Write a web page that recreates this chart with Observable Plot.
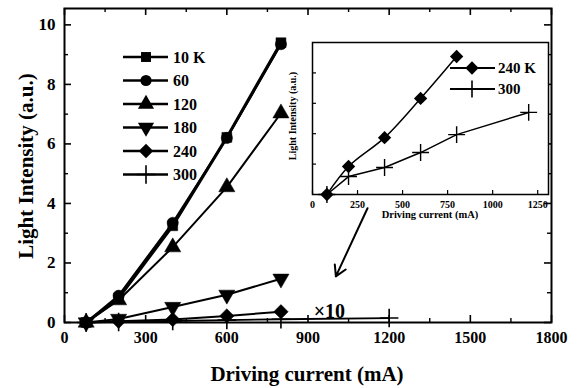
<!DOCTYPE html>
<html><head><meta charset="utf-8">
<script src="https://cdn.jsdelivr.net/npm/d3@7"></script>
<script src="https://cdn.jsdelivr.net/npm/@observablehq/plot@0.6"></script>
<style>
body{margin:0;background:#fff;}
#wrap{position:relative;width:578px;height:388px;font-family:"Liberation Serif","Times New Roman",serif;}
#inset{position:absolute;left:280px;top:38px;}
svg{overflow:visible}
</style></head><body>
<div id="wrap"><div id="main"></div><div id="inset"></div></div>
<script>
// ---- data ----
const currents = [80, 200, 400, 600, 800];
const currents300 = [80, 200, 400, 600, 800, 1200];
const series = ["10 K", "60", "120", "180", "240", "300"];
const I10 = [0, 0.82, 3.25, 6.22, 9.4];
const I60 = [0, 0.9, 3.35, 6.2, 9.35];
const I120 = [0, 0.75, 2.53, 4.55, 7.03];
const I180 = [0, 0.12, 0.52, 0.93, 1.47];
const I240 = [0, 0.04, 0.1, 0.22, 0.36];
const I300 = [0, 0.02, 0.05, 0.08, 0.11, 0.15];
// inset (a.u., scaled view of 240 K and 300 K)
const insetSeries = ["240 K", "300"];
const inset240 = [0, 0.92, 1.87, 3.16, 4.54];
const inset300 = [0, 0.59, 0.89, 1.38, 1.97, 2.70];
const xMajor = [0, 300, 600, 900, 1200, 1500, 1800];
const xMinor = [150, 450, 750, 1050, 1350, 1650];
const yMajor = [0, 2, 4, 6, 8, 10];
const yMinor = [1, 3, 5, 7, 9];
const insetXTicks = [0, 250, 500, 750, 1000, 1250];
const insetYTicks = [1, 2, 3, 4];
const arrowAnn = [{x1: 1120, y1: 3.84, x2: 1003, y2: 1.55}];
const labelAnn = [{x: 979, y: 0.15, text: "×10"}];

// inverted triangle symbol
const sqrt3 = Math.sqrt(3);
const triangleDown = {draw(ctx, size){
  const y = -Math.sqrt(size / (sqrt3 * 3));
  ctx.moveTo(0, -y * 2); ctx.lineTo(-sqrt3 * y, y); ctx.lineTo(sqrt3 * y, y); ctx.closePath();
}};
const symbols = ["square", "circle", "triangle", triangleDown, "diamond2", "plus"];
const widths = [3, 2.2, 2, 2, 2, 1.8];
const radii = [5.6, 5.6, 6, 6, 6.5, 6];
const values = [I10, I60, I120, I180, I240, I300];
const xsOf = i => i === 5 ? currents300 : currents;

const rows = s => xsOf(s).map((x, j) => ({x, y: values[s][j]}));
const FONT = "Liberation Serif, Times New Roman, serif";
const fmt = d => String(d);

const W = 578, H = 388, mL = 64, mR = 27, mT = 8, mB = 66;
const innerH = H - mT - mB, innerW = W - mL - mR;

const marks = [];
// ticks (inward)
marks.push(Plot.tickX(xMajor, {x: d => d, insetTop: innerH - 7, strokeWidth: 1.6}));
marks.push(Plot.tickX(xMajor, {x: d => d, insetBottom: innerH - 7, strokeWidth: 1.6}));
marks.push(Plot.tickX(xMinor, {x: d => d, insetTop: innerH - 4, strokeWidth: 1.4}));
marks.push(Plot.tickX(xMinor, {x: d => d, insetBottom: innerH - 4, strokeWidth: 1.4}));
marks.push(Plot.tickY(yMajor, {y: d => d, insetRight: innerW - 7, strokeWidth: 1.6}));
marks.push(Plot.tickY(yMajor, {y: d => d, insetLeft: innerW - 7, strokeWidth: 1.6}));
marks.push(Plot.tickY(yMinor, {y: d => d, insetRight: innerW - 4, strokeWidth: 1.4}));
marks.push(Plot.tickY(yMinor, {y: d => d, insetLeft: innerW - 4, strokeWidth: 1.4}));
marks.push(Plot.axisX(xMajor, {tickSize: 0, tickPadding: 9, fontSize: 16, fontWeight: "bold", label: null, tickFormat: fmt}));
marks.push(Plot.axisY(yMajor, {tickSize: 0, tickPadding: 9, fontSize: 17, fontWeight: "bold", label: null, tickFormat: fmt}));
for (let s = 5; s >= 0; s--) {
  marks.push(Plot.line(rows(s), {x: "x", y: "y", stroke: "black", strokeWidth: widths[s]}));
}
for (let s = 5; s >= 0; s--) {
  if (symbols[s] === "plus") marks.push(Plot.dot(rows(s), {x: "x", y: "y", symbol: "plus", r: radii[s], stroke: "black", strokeWidth: 1.6}));
  else marks.push(Plot.dot(rows(s), {x: "x", y: "y", symbol: symbols[s], r: radii[s], fill: "black", stroke: "black", strokeWidth: 0.5}));
}
marks.push(Plot.arrow(arrowAnn, {x1: "x1", y1: "y1", x2: "x2", y2: "y2", stroke: "black", strokeWidth: 2, headLength: 9}));
marks.push(Plot.text(labelAnn, {x: "x", y: "y", text: "text", lineAnchor: "bottom", fontSize: 20, fontWeight: "bold", dy: 0}));
marks.push(Plot.frame({stroke: "black", strokeWidth: 2}));

const main = Plot.plot({
  width: W, height: H, marginLeft: mL, marginRight: mR, marginTop: mT, marginBottom: mB,
  style: {fontFamily: FONT, color: "black", background: "white"},
  x: {domain: [0, 1800]}, y: {domain: [0, 10.55]},
  marks
});
document.getElementById("main").appendChild(main);

// titles and legend (layout, drawn with d3 on the Plot svg)
const svg = d3.select(main);
svg.append("text").attr("x", 307).attr("y", 381).attr("text-anchor", "middle")
  .attr("font-family", FONT).attr("font-weight", "bold").attr("font-size", 21).text("Driving current (mA)");
svg.append("text").attr("transform", "translate(33,166) rotate(-90)").attr("text-anchor", "middle")
  .attr("font-family", FONT).attr("font-weight", "bold").attr("font-size", 21).text("Light Intensity (a.u.)");

function drawSymbol(g, sym, r, cx, cy, plus) {
  const type = typeof sym === "string" ? {square: d3.symbolSquare, circle: d3.symbolCircle, triangle: d3.symbolTriangle, diamond2: d3.symbolDiamond2, plus: d3.symbolPlus}[sym] : sym;
  const p = g.append("path").attr("d", d3.symbol(type, Math.PI * r * r)()).attr("transform", `translate(${cx},${cy})`);
  if (plus) p.attr("fill", "none").attr("stroke", "black").attr("stroke-width", 1.6);
  else p.attr("fill", "black");
}
const lg = svg.append("g");
series.forEach((name, i) => {
  const cy = 57 + i * 23.5;
  lg.append("line").attr("x1", 123).attr("x2", 168).attr("y1", cy).attr("y2", cy).attr("stroke", "black").attr("stroke-width", 2.4);
  drawSymbol(lg, symbols[i], radii[i], 146, cy, symbols[i] === "plus");
  lg.append("text").attr("x", 173).attr("y", cy).attr("dy", "0.35em").attr("text-anchor", "start").attr("font-family", FONT)
    .attr("font-weight", "bold").attr("font-size", 16).text(name);
});

// ---- inset ----
const iW = 272, iH = 190, iL = 32, iR = 4, iT = 4, iB = 34;
const iInnerH = iH - iT - iB, iInnerW = iW - iL - iR;
const rows240 = currents.map((x, j) => ({x, y: inset240[j]}));
const rows300 = currents300.map((x, j) => ({x, y: inset300[j]}));
const inset = Plot.plot({
  width: iW, height: iH, marginLeft: iL, marginRight: iR, marginTop: iT, marginBottom: iB,
  style: {fontFamily: FONT, color: "black", background: "transparent"},
  x: {domain: [0, 1310]}, y: {domain: [0, 5], axis: null},
  marks: [
    Plot.frame({fill: "white", stroke: "none"}),
    Plot.tickX(insetXTicks, {x: d => d, insetTop: iInnerH - 4, strokeWidth: 1.2}),
    Plot.tickY(insetYTicks, {y: d => d, insetRight: iInnerW - 4, strokeWidth: 1.2}),
    Plot.axisX(insetXTicks, {tickSize: 0, tickPadding: 6, fontSize: 10, fontWeight: "bold", label: null, tickFormat: fmt}),
    Plot.line(rows300, {x: "x", y: "y", stroke: "black", strokeWidth: 1.5}),
    Plot.line(rows240, {x: "x", y: "y", stroke: "black", strokeWidth: 1.5, curve: "catmull-rom"}),
    Plot.dot(rows300, {x: "x", y: "y", symbol: "plus", r: 5.5, stroke: "black", strokeWidth: 1.4}),
    Plot.dot(rows240, {x: "x", y: "y", symbol: "diamond2", r: 6, fill: "black"}),
    Plot.frame({stroke: "black", strokeWidth: 1.5})
  ]
});
document.getElementById("inset").appendChild(inset);
const isvg = d3.select(inset);
isvg.append("text").attr("x", 150).attr("y", 180).attr("text-anchor", "middle")
  .attr("font-family", FONT).attr("font-weight", "bold").attr("font-size", 10.5).text("Driving current (mA)");
isvg.append("text").attr("transform", "translate(16,78) rotate(-90)").attr("text-anchor", "middle")
  .attr("font-family", FONT).attr("font-weight", "bold").attr("font-size", 10).text("Light Intensity (a.u.)");
insetSeries.forEach((name, i) => {
  const cy = 30 + i * 21;
  isvg.append("line").attr("x1", 170).attr("x2", 215).attr("y1", cy).attr("y2", cy).attr("stroke", "black").attr("stroke-width", 2);
  drawSymbol(isvg, i === 0 ? "diamond2" : "plus", i === 0 ? 6 : 5.5, 192, cy, i === 1);
  isvg.append("text").attr("x", 218).attr("y", cy).attr("dy", "0.35em").attr("text-anchor", "start").attr("font-family", FONT)
    .attr("font-weight", "bold").attr("font-size", 15).text(name);
});
</script>
</body></html>
